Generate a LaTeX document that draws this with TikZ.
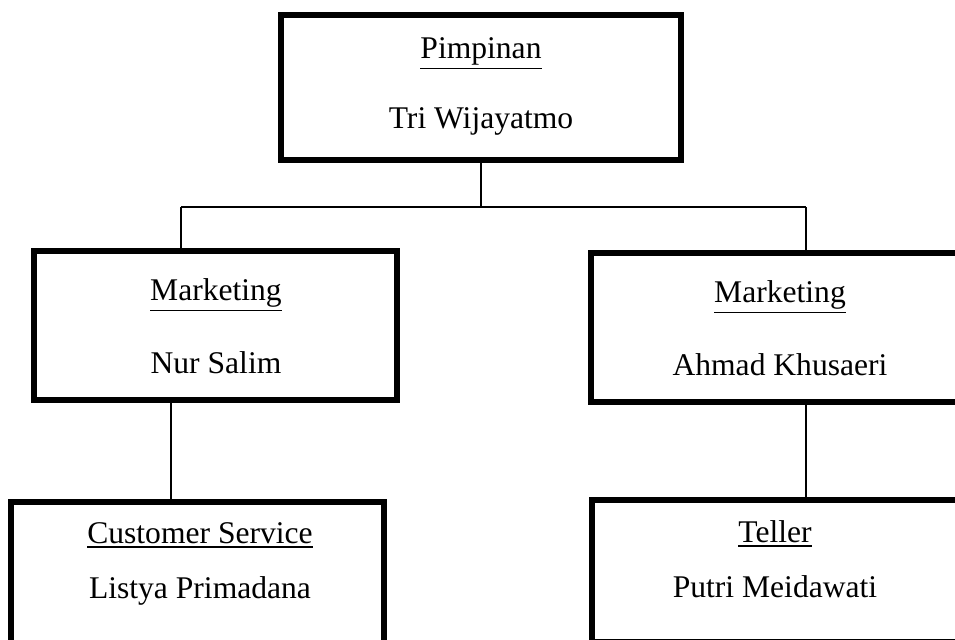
\documentclass[tikz,border=0pt]{standalone}
\usepackage{fontspec}
\setmainfont{Liberation Serif}
\usetikzlibrary{positioning}
\newcommand{\px}{0.38pt}
\tikzset{
  unitbox/.style 2 args={draw, line width=2.2pt, minimum width=#1*\px, minimum height=#2*\px, inner sep=0pt},
  role/.style={anchor=base, font=\fontsize{12}{14}\selectfont, inner sep=0pt},
  link/.style={line width=0.75pt}
}

\begin{document}
\begin{tikzpicture}[x=\px, y=-\px]
  \useasboundingbox (0,0) rectangle (955,639);
  \clip (0,0) rectangle (955,639);
  % Boxes
  \node[unitbox={400}{145}] (pimpinan) at (481,87.5) {};
  \node[unitbox={363}{149}] (mktL) at (215.5,325.5) {};
  \node[unitbox={378}{149}] (mktR) at (780,327.5) {};
  \node[unitbox={373}{143}] (cs) at (197.5,573.5) {};
  \node[unitbox={366}{141.5}] (tel) at (775,570.75) {};
  % Titles and names
  \node[role] (pimpinanT) at (481,58) {\underline{Pimpinan}};
  \node[role] (pimpinanN) at (481,128) {Tri Wijayatmo};
  \node[role] (mktLT) at (216,300) {\underline{Marketing}};
  \node[role] (mktLN) at (216,373) {Nur Salim};
  \node[role] (mktRT) at (780,302) {\underline{Marketing}};
  \node[role] (mktRN) at (780,375) {Ahmad Khusaeri};
  \node[role] (csT) at (200,543) {\underline{Customer Service}};
  \node[role] (csN) at (200,598) {Listya Primadana};
  \node[role] (telT) at (775,542) {\underline{Teller}};
  \node[role] (telN) at (775,597) {Putri Meidawati};
  % Connectors
  \coordinate (busL) at (181,207);
  \coordinate (busR) at (806,207);
  \coordinate (dropL) at (171,0);
  \draw[link] (busL) -- (busR);
  \draw[link] (pimpinan.south) -- (pimpinan.south |- busL);
  \draw[link] (busL) -- (busL |- mktL.north);
  \draw[link] (busR) -- (busR |- mktR.north);
  \draw[link] (dropL |- mktL.south) -- (dropL |- cs.north);
  \draw[link] (busR |- mktR.south) -- (busR |- tel.north);
\end{tikzpicture}
\end{document}
